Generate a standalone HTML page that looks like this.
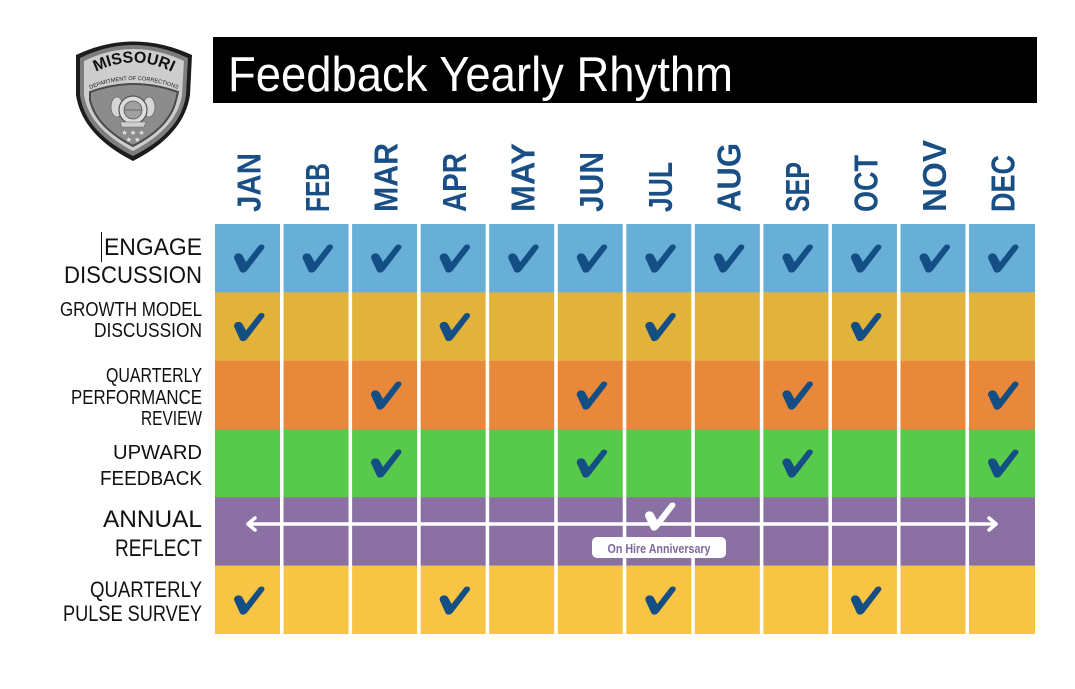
<!DOCTYPE html>
<html>
<head>
<meta charset="utf-8">
<style>
html,body{margin:0;padding:0;background:#fff;}
body{width:1075px;height:689px;overflow:hidden;}
svg{display:block;}
.lbl{font-family:"Liberation Sans",sans-serif;fill:#111;text-anchor:end;}
.mon{font-family:"Liberation Sans",sans-serif;font-weight:bold;fill:#1a4f86;font-size:33px;}
</style>
</head>
<body>
<svg width="1075" height="689" viewBox="0 0 1075 689" xmlns="http://www.w3.org/2000/svg">
  <!-- Logo -->
  <path d="M76,55 Q133,28 192,55 L190,95 Q184,135 133,161 Q82,135 76,95 Z" fill="#1c1c1c"/>
  <path d="M80,58 Q133,32 188,58 L186,95 Q181,132 133,156 Q85,132 80,95 Z" fill="#7d7d7d"/>
  <path d="M84,61 Q133,37 184,61 L182,95 Q177,128 133,151 Q89,128 84,95 Z" fill="#cdcdcd"/>
  <path d="M90,92 Q133,76 178,92 L176,100 Q170,127 133,146 Q96,127 90,100 Z" fill="#8c8c8c" stroke="#4a4a4a" stroke-width="2"/>
  <defs>
    <path id="arc1" d="M90,75 Q133,50 178,75"/>
    <path id="arc2" d="M88,90 Q133,70 180,90"/>
    <path id="chk" d="M-15,0 C-15,-5 -9,-6 -6.5,-2.5 L-3,4 L9.5,-12 C12,-15 17,-13 15,-9.5 L-1.5,12 C-4,15.5 -8.5,15.5 -9.5,12 Z"/>
  </defs>
  <text font-family="Liberation Sans, sans-serif" font-weight="bold" font-size="16" fill="#111"><textPath href="#arc1" startOffset="50%" text-anchor="middle">MISSOURI</textPath></text>
  <text font-family="Liberation Sans, sans-serif" font-size="5.6" fill="#222"><textPath href="#arc2" startOffset="50%" text-anchor="middle">DEPARTMENT OF CORRECTIONS</textPath></text>
  <ellipse cx="117" cy="107" rx="6" ry="10" fill="#d5d5d5" stroke="#666" stroke-width="0.8"/>
  <ellipse cx="149" cy="107" rx="6" ry="10" fill="#d5d5d5" stroke="#666" stroke-width="0.8"/>
  <circle cx="133" cy="110" r="14" fill="#dcdcdc" stroke="#555" stroke-width="1.2"/>
  <circle cx="133" cy="110" r="9" fill="#a0a0a0" stroke="#555" stroke-width="0.8"/>
  <line x1="124" y1="110" x2="142" y2="110" stroke="#555" stroke-width="0.8"/>
  <path d="M120,122 L146,122 L144,127 L122,127 Z" fill="#cfcfcf" stroke="#666" stroke-width="0.6"/>
  <text x="133" y="135" font-family="DejaVu Sans, sans-serif" font-size="7" fill="#e6e6e6" text-anchor="middle">★ ★ ★</text>
  <text x="133" y="142" font-family="DejaVu Sans, sans-serif" font-size="7" fill="#e6e6e6" text-anchor="middle">★ ★</text>

  <!-- Title bar -->
  <rect x="213" y="37" width="824" height="66" fill="#000"/>
  <text x="228" y="91" font-family="Liberation Sans, sans-serif" font-size="49" fill="#fff" textLength="505" lengthAdjust="spacingAndGlyphs">Feedback Yearly Rhythm</text>

  <!-- Month headers -->
  <g class="mon">
    <text transform="translate(260.5,212) rotate(-90)" textLength="59" lengthAdjust="spacingAndGlyphs">JAN</text>
    <text transform="translate(329,212) rotate(-90)" textLength="49" lengthAdjust="spacingAndGlyphs">FEB</text>
    <text transform="translate(397.6,212) rotate(-90)" textLength="69" lengthAdjust="spacingAndGlyphs">MAR</text>
    <text transform="translate(466.1,212) rotate(-90)" textLength="59" lengthAdjust="spacingAndGlyphs">APR</text>
    <text transform="translate(534.7,212) rotate(-90)" textLength="69" lengthAdjust="spacingAndGlyphs">MAY</text>
    <text transform="translate(603.2,212) rotate(-90)" textLength="60" lengthAdjust="spacingAndGlyphs">JUN</text>
    <text transform="translate(671.8,212) rotate(-90)" textLength="50" lengthAdjust="spacingAndGlyphs">JUL</text>
    <text transform="translate(740.3,212) rotate(-90)" textLength="69" lengthAdjust="spacingAndGlyphs">AUG</text>
    <text transform="translate(808.9,212) rotate(-90)" textLength="50" lengthAdjust="spacingAndGlyphs">SEP</text>
    <text transform="translate(877.4,212) rotate(-90)" textLength="57" lengthAdjust="spacingAndGlyphs">OCT</text>
    <text transform="translate(946,212) rotate(-90)" textLength="72" lengthAdjust="spacingAndGlyphs">NOV</text>
    <text transform="translate(1014.5,212) rotate(-90)" textLength="57" lengthAdjust="spacingAndGlyphs">DEC</text>
  </g>

  <!-- Row bands -->
  <rect x="215" y="224" width="820" height="68.5" fill="#67afd7"/>
  <rect x="215" y="292.3" width="820" height="68.5" fill="#e2b33b"/>
  <rect x="215" y="360.7" width="820" height="68.5" fill="#e8883a"/>
  <rect x="215" y="429" width="820" height="68.5" fill="#57c94b"/>
  <rect x="215" y="497.3" width="820" height="68.5" fill="#8b70a4"/>
  <rect x="215" y="565.7" width="820" height="68.3" fill="#f8c443"/>

  <!-- Column gaps -->
  <g fill="#fff">
    <rect x="280" y="224" width="3.55" height="410"/>
    <rect x="348.55" y="224" width="3.55" height="410"/>
    <rect x="417.1" y="224" width="3.55" height="410"/>
    <rect x="485.65" y="224" width="3.55" height="410"/>
    <rect x="554.2" y="224" width="3.55" height="410"/>
    <rect x="622.75" y="224" width="3.55" height="410"/>
    <rect x="691.3" y="224" width="3.55" height="410"/>
    <rect x="759.85" y="224" width="3.55" height="410"/>
    <rect x="828.4" y="224" width="3.55" height="410"/>
    <rect x="896.95" y="224" width="3.55" height="410"/>
    <rect x="965.5" y="224" width="3.55" height="410"/>
  </g>

  <!-- Checks -->
  <g fill="#134e84">
    <!-- Row 1: all months -->
    <use href="#chk" x="249" y="258"/>
    <use href="#chk" x="317.5" y="258"/>
    <use href="#chk" x="386" y="258"/>
    <use href="#chk" x="454.6" y="258"/>
    <use href="#chk" x="523.2" y="258"/>
    <use href="#chk" x="591.7" y="258"/>
    <use href="#chk" x="660.3" y="258"/>
    <use href="#chk" x="728.8" y="258"/>
    <use href="#chk" x="797.4" y="258"/>
    <use href="#chk" x="865.9" y="258"/>
    <use href="#chk" x="934.5" y="258"/>
    <use href="#chk" x="1003" y="258"/>
    <!-- Row 2 -->
    <use href="#chk" x="249" y="326.5"/>
    <use href="#chk" x="454.6" y="326.5"/>
    <use href="#chk" x="660.3" y="326.5"/>
    <use href="#chk" x="865.9" y="326.5"/>
    <!-- Row 3 -->
    <use href="#chk" x="386" y="395"/>
    <use href="#chk" x="591.7" y="395"/>
    <use href="#chk" x="797.4" y="395"/>
    <use href="#chk" x="1003" y="395"/>
    <!-- Row 4 -->
    <use href="#chk" x="386" y="463"/>
    <use href="#chk" x="591.7" y="463"/>
    <use href="#chk" x="797.4" y="463"/>
    <use href="#chk" x="1003" y="463"/>
    <!-- Row 6 -->
    <use href="#chk" x="249" y="600"/>
    <use href="#chk" x="454.6" y="600"/>
    <use href="#chk" x="660.3" y="600"/>
    <use href="#chk" x="865.9" y="600"/>
  </g>

  <!-- Annual reflect arrow -->
  <g stroke="#fff" fill="none" stroke-width="3.5" stroke-linecap="round" stroke-linejoin="round">
    <line x1="248" y1="524" x2="996" y2="524"/>
    <polyline points="255,518 248,524 255,530"/>
    <polyline points="989,518 996,524 989,530"/>
  </g>
  <use href="#chk" x="660" y="516" fill="#fff"/>
  <rect x="592" y="537" width="134" height="21" rx="5" fill="#fff"/>
  <text x="659" y="553" font-family="Liberation Sans, sans-serif" font-weight="bold" font-size="13" fill="#7b6a9c" text-anchor="middle" textLength="103" lengthAdjust="spacingAndGlyphs">On Hire Anniversary</text>

  <!-- Row labels -->
  <line x1="101.5" y1="232" x2="101.5" y2="262" stroke="#111" stroke-width="1"/>
  <text class="lbl" x="202" y="255" font-size="24" textLength="98" lengthAdjust="spacingAndGlyphs">ENGAGE</text>
  <text class="lbl" x="202" y="283" font-size="24" textLength="138" lengthAdjust="spacingAndGlyphs">DISCUSSION</text>
  <text class="lbl" x="202" y="316" font-size="20" textLength="142" lengthAdjust="spacingAndGlyphs">GROWTH MODEL</text>
  <text class="lbl" x="202" y="337" font-size="20" textLength="108" lengthAdjust="spacingAndGlyphs">DISCUSSION</text>
  <text class="lbl" x="202" y="382" font-size="20" textLength="96" lengthAdjust="spacingAndGlyphs">QUARTERLY</text>
  <text class="lbl" x="202" y="404" font-size="20" textLength="131" lengthAdjust="spacingAndGlyphs">PERFORMANCE</text>
  <text class="lbl" x="202" y="425" font-size="20" textLength="61" lengthAdjust="spacingAndGlyphs">REVIEW</text>
  <text class="lbl" x="202" y="459" font-size="20" textLength="89" lengthAdjust="spacingAndGlyphs">UPWARD</text>
  <text class="lbl" x="202" y="485" font-size="20" textLength="102" lengthAdjust="spacingAndGlyphs">FEEDBACK</text>
  <text class="lbl" x="202" y="527" font-size="24" textLength="99" lengthAdjust="spacingAndGlyphs">ANNUAL</text>
  <text class="lbl" x="202" y="556" font-size="24" textLength="87" lengthAdjust="spacingAndGlyphs">REFLECT</text>
  <text class="lbl" x="202" y="597" font-size="22" textLength="112" lengthAdjust="spacingAndGlyphs">QUARTERLY</text>
  <text class="lbl" x="202" y="621" font-size="22" textLength="139" lengthAdjust="spacingAndGlyphs">PULSE SURVEY</text>
</svg>
</body>
</html>
